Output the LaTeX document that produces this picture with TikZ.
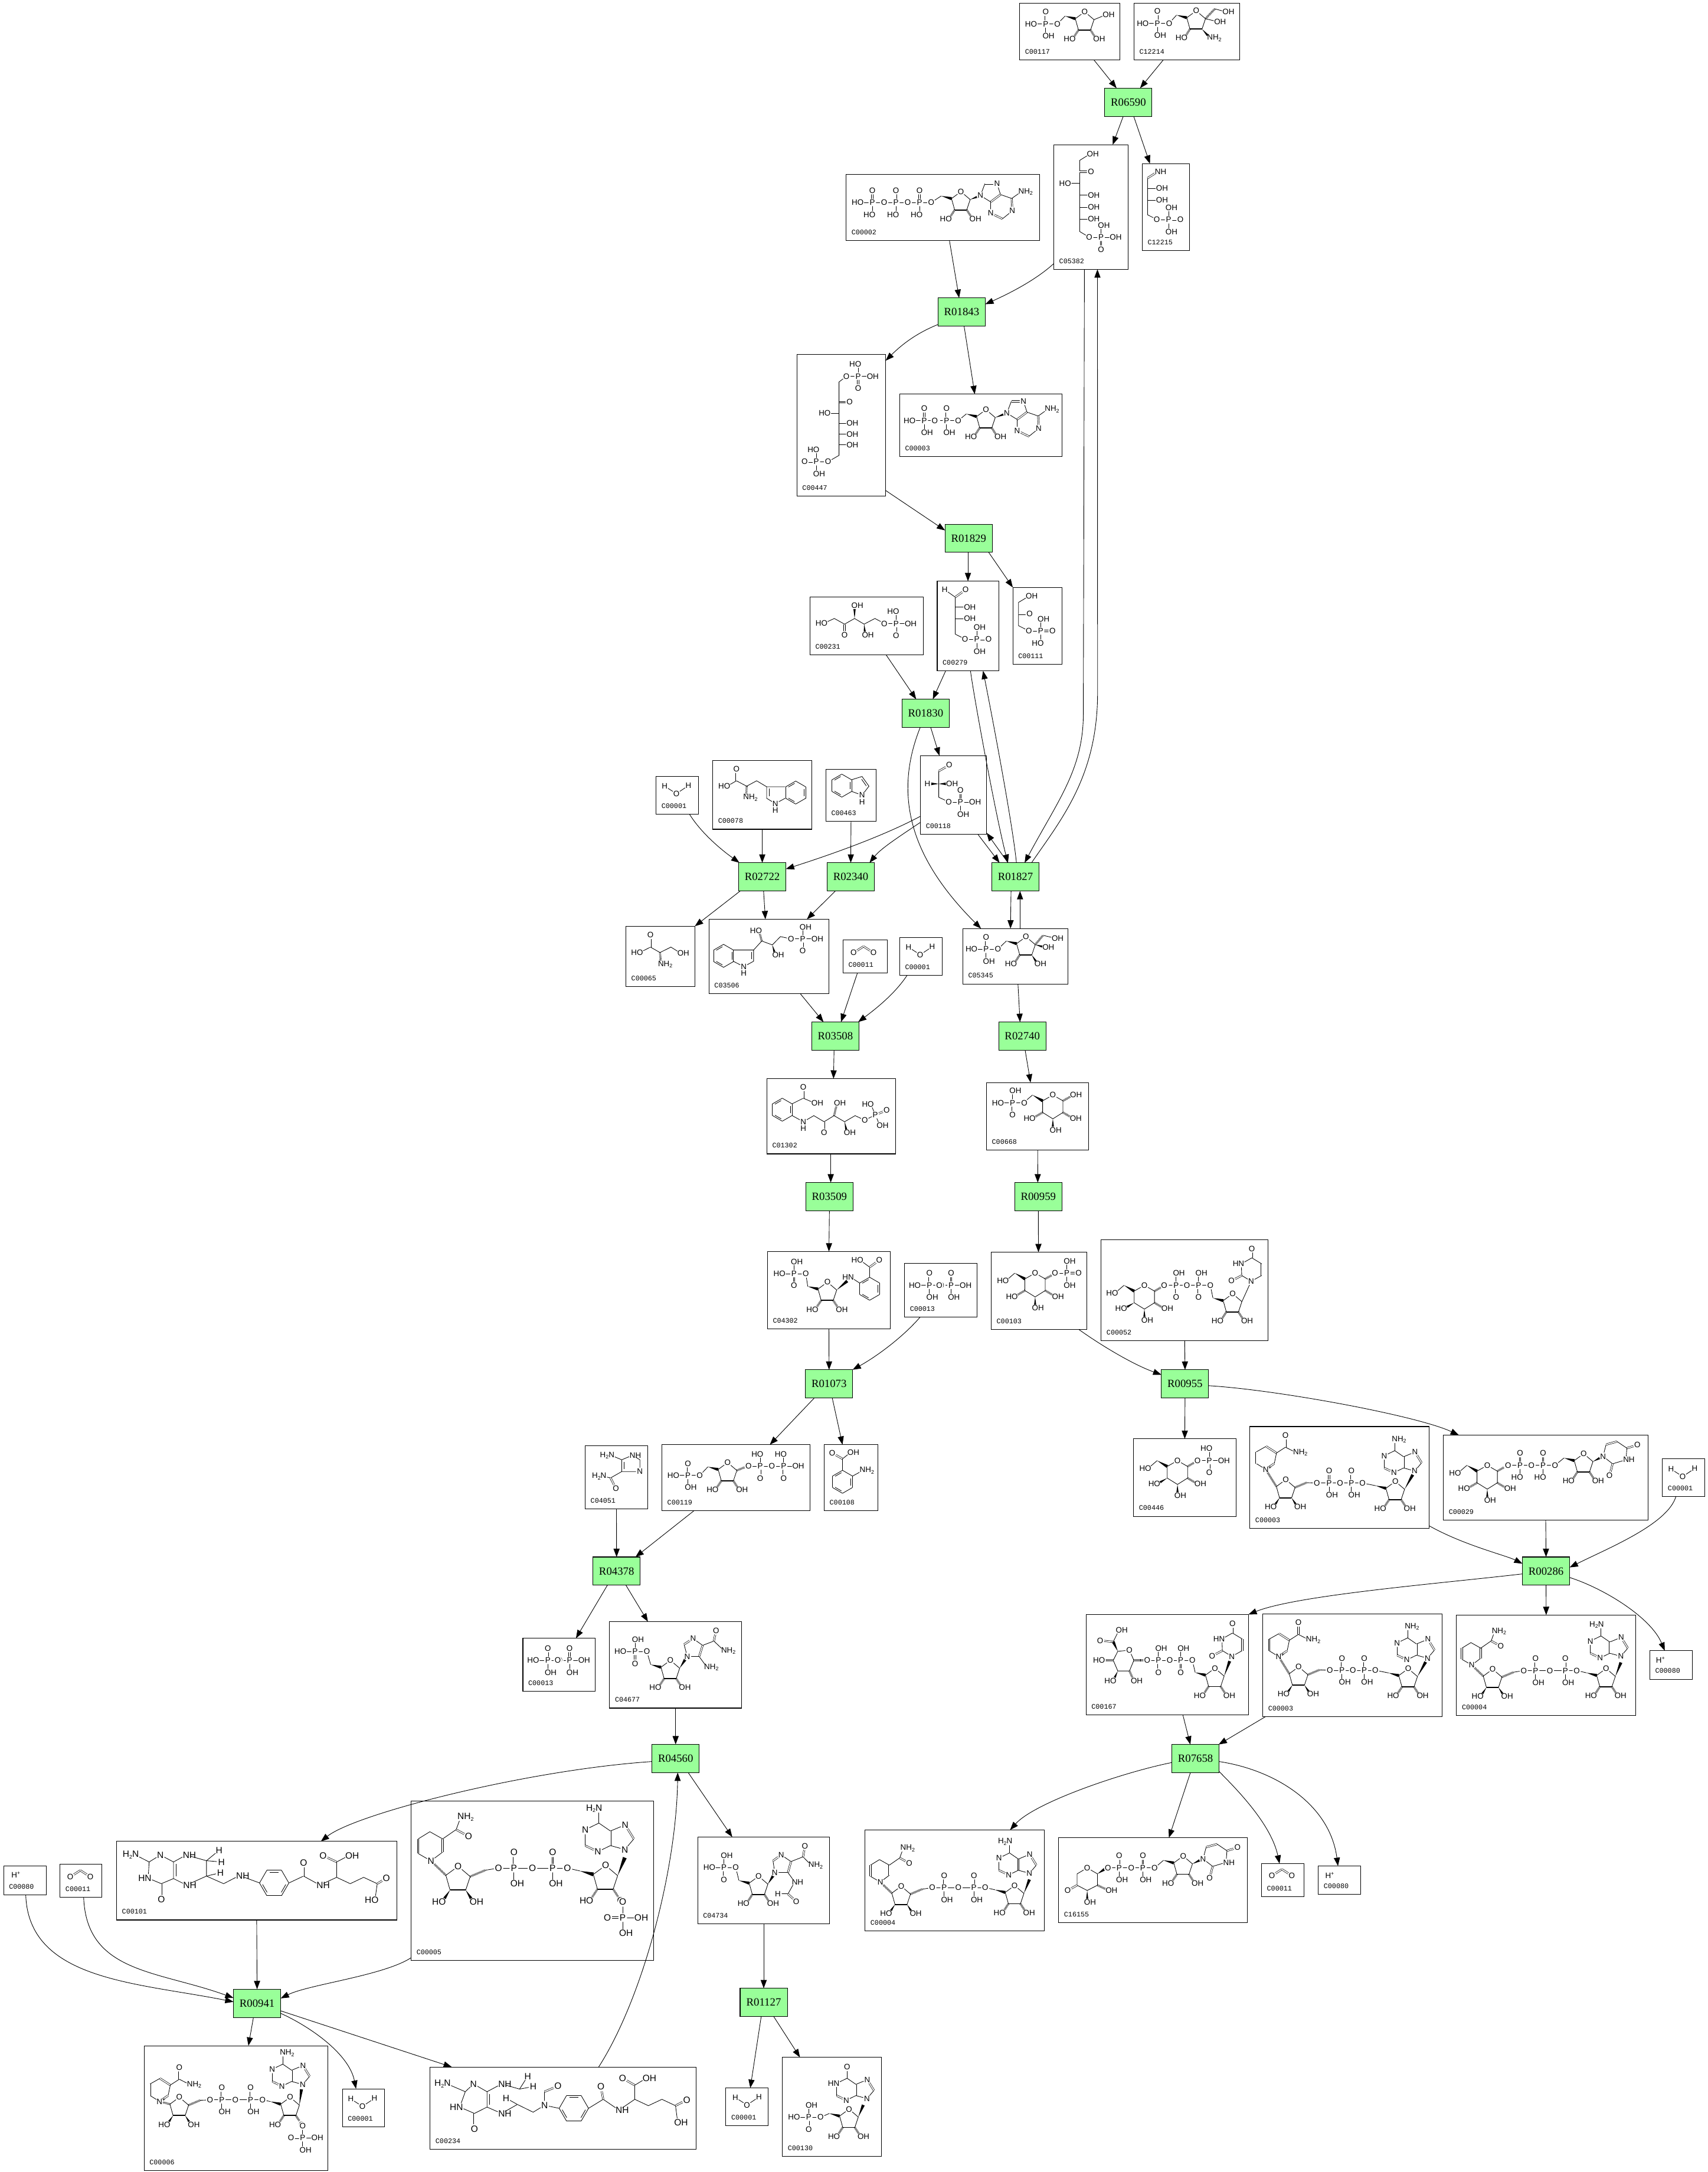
\documentclass[tikz,border=0pt]{standalone}
\usepackage{fontspec}
\setmainfont{Liberation Serif}
\setsansfont{Liberation Sans}
\setmonofont{Liberation Mono}
\usetikzlibrary{arrows.meta,calc}
\definecolor{rxngreen}{HTML}{99FF99}
\tikzset{
  rxn/.style={draw,fill=rxngreen,line width=.45pt,minimum width=34.1pt,minimum height=20.4pt,
    inner sep=0pt,outer sep=0pt,font=\fontsize{8}{8}\selectfont},
  cpdbox/.style={draw,line width=.45pt,inner sep=0pt,outer sep=0pt},
  cpdlab/.style={anchor=west,inner sep=0pt,font=\fontsize{5}{5}\ttfamily\selectfont},
  conn/.style={-{Triangle[length=6pt,width=4.4pt]},line width=.38pt},
  bond/.style={line width=.36pt},
  dbond/.style={line width=.3pt,double,double distance=.75pt},
  hashb/.style={line width=1.5pt,dash pattern=on .3pt off .5pt},
  atm/.style={circle,fill=white,inner sep=0pt,minimum size=0.9*\afs pt,
    font=\fontsize{\afs}{\afs}\sffamily\selectfont}
}
\def\afs{5.7}
\newif\ifatompass
% atom texts: the first atom of the bond sits at the given point
\newcommand{\subtwo}{\raisebox{-.35ex}{\fontsize{3.8}{3.8}\selectfont 2}}
\newcommand{\supplus}{\raisebox{.7ex}{\fontsize{3.8}{3.8}\selectfont +}}
\newcommand{\OH}{\makebox[0pt]{O}\rlap{\hspace{.39em}H}}
\newcommand{\HO}{\llap{H\hspace{.39em}}\makebox[0pt]{O}}
\newcommand{\NH}{\makebox[0pt]{N}\rlap{\hspace{.36em}H}}
\newcommand{\HN}{\llap{H\hspace{.36em}}\makebox[0pt]{N}}
\newcommand{\NHt}{\makebox[0pt]{N}\rlap{\hspace{.36em}H\subtwo}}
\newcommand{\HtN}{\llap{H\subtwo\hspace{.36em}}\makebox[0pt]{N}}
\newcommand{\atm}[2]{\ifatompass\node[atm] at (#1) {#2};\fi}
% bond: s single, d double, w wedge, h hashed
\newcommand{\Bd}[4][s]{%
  \ifatompass\else
  \if#1d\draw[dbond] (#2) -- (#3);%
  \else\if#1w\fill (#2) -- ($(#3)!1.1pt!90:(#2)$) -- ($(#3)!1.1pt!-90:(#2)$) -- cycle;%
  \else\if#1h\draw[hashb] (#2) -- (#3);%
  \else\draw[bond] (#2) -- (#3);\fi\fi\fi
  \fi
  \if\relax\detokenize{#4}\relax\else\atm{#3}{#4}\fi}
\newcommand{\Dk}[2]{\if#1#2d\else s\fi}
% phosphate
\newcommand{\Pg}[7]{\begin{scope}[shift={(#1,#2)}]
  \Bd[\Dk{t}{#7}]{0,0}{0,-8.7}{#3}
  \Bd[\Dk{r}{#7}]{0,0}{8.5,0}{#4}
  \Bd[\Dk{b}{#7}]{0,0}{0,8.7}{#5}
  \Bd[\Dk{l}{#7}]{0,0}{-8.5,0}{#6}
  \atm{0,0}{P}
\end{scope}}
\newcommand{\Pv}[5]{\begin{scope}[shift={(#1,#2)}]
  \Bd[\Dk{t}{#5}]{0,0}{0,-8.7}{#3}
  \Bd[\Dk{b}{#5}]{0,0}{0,8.7}{#4}
  \atm{0,0}{P}
\end{scope}}
\newcommand{\Ochain}[2]{%
  \foreach \ox [count=\k] in {#2} {
    \ifnum\k=1 \xdef\oa{\ox}\fi
    \xdef\ob{\ox}
    \atm{\ox,#1}{O}
  }
  \draw[bond] (\oa,#1) -- (\ob,#1);}
% sugar rings
\newcommand{\Ring}[2]{\begin{scope}[shift={(#1,#2)}]
  \draw[bond] (-4.5,13.2) -- (-6.8,5) -- (0,0) -- (6.7,5.7) -- (4.2,13.2);
  \draw[bond,line width=.75pt] (4.2,13.2) -- (-4.5,13.2);
  \atm{0,0}{O}
\end{scope}}
\newcommand{\Rib}[5][\OH]{\Ring{#2}{#3}
  \begin{scope}[shift={(#2,#3)}]
  \Bd[#4]{-4.5,13.2}{-8.8,19.7}{\HO}
  \Bd[#5]{4.2,13.2}{8.4,19.7}{#1}
\end{scope}}
\newcommand{\ArmL}[4]{\Bd[w]{#1-14.2,#2+3.1}{#1-6.8,#2+5}{}
  \draw[bond] ({#1-14.2},{#2+3.1}) -- (#3,#4);}
\newcommand{\ArmR}[4]{\Bd[h]{#1+6.7,#2+5.7}{#1+15,#2+2.2}{}
  \draw[bond] ({#1+15},{#2+2.2}) -- (#3,#4);}
\newcommand{\Pyr}[7]{\begin{scope}[shift={(#1,#2)}]
  \draw[bond] (-7.4,4.2) -- (0,0) -- (7.3,4.2) -- (7.3,12.6) -- (0,17.2) -- (-7.4,12.6) -- cycle;
  \Bd[w]{-14.7,0}{-7.4,4.2}{}
  \Bd{-14.7,0}{-21.2,5.6}{#3}
  \Bd[h]{7.3,4.2}{14.7,0}{#4}
  \Bd[#5]{-7.4,12.6}{-14.7,16.9}{\HO}
  \Bd[#6]{7.3,12.6}{14.5,16.9}{\OH}
  \Bd[#7]{0,17.2}{0,25.3}{\OH}
  \atm{0,0}{O}
\end{scope}}
\newcommand{\Benz}[4]{%
  \foreach \k in {0,...,5} {
    \draw[bond] ([shift={(#4+60*\k:#3)}]#1,#2) -- ([shift={(#4+60+60*\k:#3)}]#1,#2);
  }
  \foreach \k in {0,2,4} {
    \draw[bond] ([shift={(#4+7+60*\k:0.8*#3)}]#1,#2) -- ([shift={(#4+53+60*\k:0.8*#3)}]#1,#2);
  }}
% bases
\newcommand{\AdeA}[3]{\begin{scope}[shift={(#1,#2)}]
  \Bd{0,0}{3.2,-8.5}{}
  \Bd[d]{3.2,-8.5}{12,-8.5}{N}
  \Bd{12,-8.5}{14.5,-.7}{}
  \Bd[d]{14.5,-.7}{7.4,4.6}{}
  \Bd{7.4,4.6}{0,0}{N}
  \Bd{7.4,4.6}{7.4,12.7}{N}
  \Bd[d]{7.4,12.7}{15.9,16.8}{}
  \Bd{15.9,16.8}{23,11.1}{N}
  \Bd[d]{23,11.1}{22.6,2.1}{}
  \Bd{22.6,2.1}{14.5,-.7}{}
  \Bd{22.6,2.1}{29.5,-2.8}{#3}
\end{scope}}
\newcommand{\AdeB}[4]{\begin{scope}[shift={(#1,#2)}]
  \Bd{0,0}{5,-5.9}{}
  \Bd[d]{5,-5.9}{.2,-13.7}{N}
  \Bd{.2,-13.7}{-8,-10.3}{}
  \Bd[d]{-8,-10.3}{-8,-2.2}{}
  \Bd{-8,-2.2}{0,0}{N}
  \Bd{-8,-2.2}{-15,1.2}{N}
  \Bd[d]{-15,1.2}{-22,-2.2}{}
  \Bd{-22,-2.2}{-22,-11}{#4}
  \Bd{-22,-11}{-14.4,-14.7}{}
  \Bd{-14.4,-14.7}{-8,-10.3}{}
  \Bd{-14.4,-14.7}{-14.4,-22.8}{#3}
\end{scope}}
\newcommand{\UraU}[2]{\begin{scope}[shift={(#1,#2)}]
  \Bd{0,0}{7.6,-4.2}{}
  \Bd[d]{7.6,-4.2}{7.6,-12.6}{}
  \Bd{7.6,-12.6}{.5,-16.9}{}
  \Bd[d]{.5,-16.9}{.5,-23.6}{O}
  \Bd{.5,-16.9}{-7.1,-12.6}{\HN}
  \Bd{-7.1,-12.6}{-6.8,-4.2}{}
  \Bd[d]{-6.8,-4.2}{-14.2,-.3}{O}
  \Bd{-6.8,-4.2}{0,0}{N}
\end{scope}}
\newcommand{\UraR}[2]{\begin{scope}[shift={(#1,#2)}]
  \Bd{0,0}{2.2,-8.5}{}
  \Bd[d]{2.2,-8.5}{10.1,-10.7}{}
  \Bd{10.1,-10.7}{17.2,-5.9}{}
  \Bd[d]{17.2,-5.9}{24.8,-8.2}{O}
  \Bd{17.2,-5.9}{16.6,2.5}{\NH}
  \Bd{16.6,2.5}{6.9,5.4}{}
  \Bd[d]{6.9,5.4}{4.7,14}{O}
  \Bd{6.9,5.4}{0,0}{N}
\end{scope}}
\newcommand{\NicOx}[2]{\begin{scope}[shift={(#1,#2)}]
  \Bd{0,0}{-6.8,-4.2}{}
  \Bd[d]{-6.8,-4.2}{-6.8,-12.6}{}
  \Bd{-6.8,-12.6}{.3,-16.6}{}
  \Bd[d]{.3,-16.6}{7.8,-11.8}{}
  \Bd{7.8,-11.8}{6.2,-4.2}{}
  \Bd[d]{6.2,-4.2}{0,0}{\makebox[0pt]{N}\rlap{\hspace{.36em}\supplus}}
  \Bd{7.8,-11.8}{14.3,-16}{}
  \Bd[d]{14.3,-16}{14.3,-24.5}{O}
  \Bd{14.3,-16}{21.9,-12.1}{\NHt}
\end{scope}}
\newcommand{\NicRed}[2]{\begin{scope}[shift={(#1,#2)}]
  \Bd{0,0}{6.5,-4.9}{}
  \Bd[d]{6.5,-4.9}{6.5,-12.2}{}
  \Bd{6.5,-12.2}{-.6,-16.2}{}
  \Bd{-.6,-16.2}{-7.1,-12.2}{}
  \Bd[d]{-7.1,-12.2}{-7.1,-4.1}{}
  \Bd{-7.1,-4.1}{0,0}{N}
  \Bd{6.5,-12.2}{14,-17.4}{}
  \Bd[d]{14,-17.4}{20.9,-13.6}{O}
  \Bd{14,-17.4}{16.6,-24.4}{\NHt}
\end{scope}}
% dinucleotides, in the coordinates of their box
\newcommand{\OxNAD}{%
  \NicOx{11.4}{30.9}
  \Rib{25.9}{38.3}{w}{w}
  \Bd[h]{19.1,43.3}{11.4,30.9}{}
  \ArmR{25.9}{38.3}{48.4}{40.8}
  \Ochain{40.8}{48.4,65.1,81.3}
  \Pv{57.2}{40.8}{O}{\OH}{t}
  \Pv{73.3}{40.8}{O}{\OH}{t}
  \Rib{105}{39.6}{h}{h}
  \ArmL{105}{39.6}{81.3}{40.8}
  \Bd[w]{111.7,45.3}{117.6,34.8}{}
  \AdeB{119}{32.1}{\NHt}{N}}
\newcommand{\RedNAD}[1][\OH]{%
  \NicRed{11}{36.1}
  \Rib{26.1}{39.1}{w}{w}
  \Bd[h]{19.3,44.1}{11,36.1}{}
  \ArmR{26.1}{39.1}{48.5}{40.1}
  \Ochain{40.1}{48.5,67.4,86.8}
  \Pv{57.1}{40.1}{O}{\OH}{t}
  \Pv{78.6}{40.1}{O}{\OH}{t}
  \Rib[#1]{108}{38.6}{h}{h}
  \ArmL{108}{38.6}{86.8}{40.1}
  \Bd[w]{114.7,44.3}{118.7,34.3}{}
  \AdeB{118.7}{29.8}{\HtN}{N}}
\newcommand{\Water}[2]{\begin{scope}[shift={(#1,#2)}]
  \Bd{0,0}{-8.4,-5.4}{H}
  \Bd{0,0}{8.7,-5.8}{H}
  \atm{0,0}{O}
\end{scope}}
\newcommand{\COt}[2]{\begin{scope}[shift={(#1,#2)}]
  \Bd[d]{0,0}{-7.2,4.6}{O}
  \Bd[d]{0,0}{7.2,4.6}{O}
\end{scope}}
% compound box and reaction box
\newcommand{\cpd}[6]{%
  \pgfmathsetmacro\cw{#5-#3}
  \pgfmathsetmacro\ch{#6-#4}
  \node[cpdbox,minimum width=\cw pt,minimum height=\ch pt] (#1) at ({(#3+#5)/2},{(#4+#6)/2}) {};
  \node[cpdlab] (#1lab) at ({#3+3.7},{#6-6}) {#2};}
\newcommand{\rxn}[3]{\node[rxn] (#1) at (#2,#3) {#1};}
% all structures: run once for the bonds, once for the atoms on top
\newcommand{\Molecules}{%
  % Water, carbon dioxide, protons
  \Water{488.4}{573.1}
  \Water{664.5}{689.4}
  \Water{1215.1}{1066.2}
  \Water{261.7}{1521}
  \Water{539.4}{1520}
  \COt{623.6}{683.4}
  \COt{58}{1350.6}
  \COt{925.7}{1349.8}
  \atm{1199,1198.7}{H\supplus}
  \atm{960.2,1354.2}{H\supplus}
  \atm{11.4,1353.8}{H\supplus}

  % C00117
  \Pg{755.1}{17.3}{O}{O}{\OH}{\HO}{t}
  \Rib{783.3}{8.5}{h}{h}
  \ArmL{783.3}{8.5}{763.6}{17.3}
  \Bd{790,14.2}{798.5,10.7}{\OH}

  % C12214
  \Pg{835.8}{16.8}{O}{O}{\OH}{\HO}{t}
  \Ring{863.8}{7.8}
  \ArmL{863.8}{7.8}{844.3}{16.8}
  \Bd[h]{859.3,21}{855.3,27.4}{\HO}
  \Bd[w]{868,21}{873.8,27.4}{\NHt}
  \Bd[h]{870.5,13.5}{877.3,6.4}{}
  \Bd{877.3,6.4}{885,8.5}{\OH}
  \Bd{870.5,13.5}{879,15.6}{\OH}

  % C05382
  \draw[bond] (787.1,111.2) -- (779.7,115.8) -- (779.7,167.2) -- (786.7,171.4);
  \atm{787.1,111.2}{\OH}
  \Bd[d]{779.7,124}{787.8,124}{O}
  \Bd{779.7,132.5}{771.2,132.5}{\HO}
  \foreach \y in {141,149.6,158.1} {
    \Bd{779.7,\y}{787.8,\y}{\OH}
  }
  \Pg{795.1}{171.4}{\OH}{\OH}{O}{O}{b}

  % C12215
  \draw[bond] (828.7,128.6) -- (828.7,155.1) -- (835.8,158.7);
  \Bd[d]{828.7,128.6}{836.1,123.9}{\NH}
  \Bd{828.7,136}{837.1,136}{\OH}
  \Bd{828.7,144.6}{837.1,144.6}{\OH}
  \Pg{843.9}{158.7}{\OH}{O}{\OH}{O}{r}

  % C00002
  \Pg{629.9}{146.2}{O}{O}{\HO}{\HO}{t}
  \Pg{647}{146.2}{O}{O}{\HO}{O}{t}
  \Pg{664}{146.2}{O}{O}{\HO}{O}{t}
  \Rib{693.9}{138.4}{h}{h}
  \ArmL{693.9}{138.4}{672.5}{146.2}
  \Bd[w]{700.6,144.1}{708,141.2}{}
  \AdeA{708}{141.2}{\NHt}

  % C00447
  \Pg{619.7}{271.7}{\HO}{\OH}{O}{O}{b}
  \draw[bond] (611.2,271.7) -- (605.9,275.8) -- (605.9,328.8) -- (598,333.4);
  \Bd[d]{605.9,290.4}{613.5,290.4}{O}
  \Bd{605.9,298.3}{597.6,298.3}{\HO}
  \foreach \y in {305.6,313.5,321.1} {
    \Bd{605.9,\y}{613.5,\y}{\OH}
  }
  \Pg{589.5}{333.4}{\HO}{O}{\OH}{O}{l}

  % upper C00003 box
  \Pg{667.4}{303.7}{O}{O}{\OH}{\HO}{t}
  \Pg{683.5}{303.7}{O}{O}{\OH}{O}{t}
  \Rib{712}{295.8}{h}{h}
  \ArmL{712}{295.8}{692}{303.7}
  \Bd[w]{718.7,301.5}{727.1,298.3}{}
  \AdeA{727.1}{298.3}{\NHt}

  % C00279
  \draw[bond] (689.8,431.2) -- (689.8,457.9) -- (697.3,461.7);
  \Bd{689.8,431.2}{682.2,425.8}{H}
  \Bd[d]{689.8,431.2}{697.3,425.8}{O}
  \Bd{689.8,438.3}{698.3,438.3}{\OH}
  \Bd{689.8,446.8}{698.3,446.8}{\OH}
  \Pg{705.4}{461.7}{\OH}{O}{\OH}{O}{r}

  % C00111
  \draw[bond] (743,430.5) -- (735.5,435) -- (735.5,451.8) -- (743,455.6);
  \atm{743,430.5}{\OH}
  \Bd[d]{735.5,443.3}{743.5,443.3}{O}
  \Pg{751.5}{455.6}{\OH}{O}{\HO}{O}{r}

  % C00231
  \draw[bond] (595.3,449.9) -- (602.5,446.6) -- (609.9,450.7) -- (617.1,446.6) -- (624,450.7) -- (631.8,446.6) -- (638.8,450.3);
  \atm{595.3,449.9}{\HO}
  \Bd[d]{609.9,450.7}{609.9,458.6}{O}
  \Bd[w]{617.1,446.6}{617.1,437.3}{\OH}
  \Bd[w]{624,450.7}{624.7,458.6}{\OH}
  \Pg{647.1}{450.3}{\HO}{\OH}{O}{O}{b}

  % C00118
  \draw[bond] (677.9,556.8) -- (677.9,575.7) -- (685.5,579.2);
  \Bd[d]{677.9,556.8}{685.5,552.5}{O}
  \Bd[w]{677.9,566}{671.5,566}{}
  \Bd[w]{677.9,566}{684,566}{}
  \atm{669.7,565.8}{H}
  \atm{685.5,565.8}{\OH}
  \Pg{693.6}{579.2}{O}{\OH}{\OH}{O}{t}

  % C00078
  \Bd{531.8,563.8}{525.1,567.7}{\HO}
  \Bd[d]{531.8,563.8}{531.8,555.3}{O}
  \Bd{531.8,563.8}{539.2,567.7}{}
  \Bd[h]{539.2,567.7}{538.8,576}{\NHt}
  \draw[bond] (539.2,567.7) -- (546.4,563.8) -- (553.6,568.1);
  \draw[bond] (567,568.1) -- (553.6,568.1) -- (553.6,576.4) -- (559.9,580.3) -- (567,576.4);
  \draw[bond] (555.4,569.5) -- (555.4,575);
  \atm{559.9,580.3}{N}
  \atm{559.9,585}{H}
  \Benz{574.6}{572.3}{8.3}{90}

  % C00463
  \Benz{607.9}{567.3}{8.3}{90}
  \draw[bond] (615.1,563) -- (622.5,560.7) -- (627.5,567.7) -- (622.5,574.2) -- (615.1,571.5);
  \draw[bond] (622.2,562.7) -- (625.6,567.5);
  \atm{622.5,574.2}{N}
  \atm{622.5,579}{H}

  % C00065
  \Bd{469.7,683.9}{462.1,687.8}{\HO}
  \Bd[d]{469.7,683.9}{469.7,675.2}{O}
  \Bd{469.7,683.9}{476.6,687.8}{}
  \Bd[h]{476.6,687.8}{477.3,696.3}{\NHt}
  \draw[bond] (476.6,687.8) -- (484.5,683.9) -- (491.4,688.2);
  \atm{491.4,688.2}{\OH}

  % C03506
  \Benz{522.5}{690.2}{8.3}{90}
  \draw[bond] (529.5,686) -- (544.2,686) -- (544.2,694.1) -- (537.1,698) -- (529.5,694.1);
  \draw[bond] (542.6,687.5) -- (542.6,692.6);
  \atm{537.1,698}{N}
  \atm{537.1,702.8}{H}
  \draw[bond] (544.2,686) -- (550.1,679.5) -- (557.7,682.3) -- (563.6,676.3) -- (571.4,678);
  \Bd[h]{550.1,679.5}{548,671.9}{\HO}
  \Bd[w]{557.7,682.3}{559.9,689.7}{\OH}
  \Pg{579.7}{678}{\OH}{\OH}{O}{O}{b}

  % C05345
  \Pg{712.1}{685.4}{O}{O}{\OH}{\HO}{t}
  \Rib{740.9}{676.4}{h}{w}
  \ArmL{740.9}{676.4}{720.6}{685.4}
  \Bd[h]{747.6,682.1}{753.2,675.4}{}
  \Bd{753.2,675.4}{761.7,677.4}{\OH}
  \Bd[w]{747.6,682.1}{755,684.2}{\OH}

  % C01302
  \Benz{564.9}{801.3}{8.3}{90}
  \Bd{572.1,797}{580.1,793}{}
  \Bd[d]{580.1,793}{580.1,785}{O}
  \Bd{580.1,793}{588.2,796.5}{\OH}
  \draw[bond] (572.1,805.6) -- (580.1,810) -- (587.7,805.6) -- (595.1,810) -- (602.3,805.6) -- (609.9,810) -- (617.5,805.6) -- (624.5,808.9) -- (632.1,805);
  \atm{580.1,810}{N}
  \atm{580.1,814.8}{H}
  \Bd[d]{595.1,810}{595.1,818}{O}
  \Bd[h]{602.3,805.6}{604.5,796.5}{\OH}
  \Bd[w]{609.9,810}{611.6,818}{\OH}
  \atm{624.5,808.9}{O}
  \Bd{632.1,805}{628.8,797.3}{\HO}
  \Bd[d]{632.1,805}{640.3,801.7}{O}
  \Bd{632.1,805}{635.3,812.6}{\OH}
  \atm{632.1,805}{P}

  % C00668
  \Pg{731.2}{796.4}{\OH}{O}{O}{\HO}{b}
  \Pyr{760.3}{790.7}{}{\OH}{h}{h}{w}

  % C04302
  \Pg{573.4}{919.7}{\OH}{O}{O}{\HO}{b}
  \Rib{597.5}{925.8}{h}{h}
  \ArmL{597.5}{925.8}{581.9}{919.7}
  \Bd[w]{604.2,931.5}{611.8,925}{}
  \atm{614.5,922.4}{\HN}
  \Bd{614.5,922.4}{620.8,926.5}{}
  \Benz{628}{930.6}{8.3}{90}
  \Bd{628,922.3}{628,915}{}
  \Bd{628,915}{621.2,910}{\HO}
  \Bd[d]{628,915}{634.9,910}{O}

  % C00013, two boxes
  \Pg{671.2}{928}{O}{O}{\OH}{\HO}{t}
  \Pg{686.8}{928}{O}{\OH}{\OH}{O}{t}
  \Pg{395.6}{1198.9}{O}{O}{\OH}{\HO}{t}
  \Pg{411.3}{1198.9}{O}{\OH}{\OH}{O}{t}

  % C00103
  \Pyr{747.5}{919.3}{\HO}{O}{h}{h}{w}
  \Pg{770.4}{919.3}{\OH}{O}{\OH}{O}{r}

  % C00052
  \Pyr{826.4}{928.1}{\HO}{O}{w}{h}{w}
  \Ochain{928.1}{840.7,857.1,874}
  \Pv{849.3}{928.1}{\OH}{O}{b}
  \Pv{865.5}{928.1}{\OH}{O}{b}
  \Rib{890.1}{934.2}{h}{h}
  \ArmL{890.1}{934.2}{874}{928.1}
  \Bd{896.8,939.9}{903.5,925.2}{}
  \UraU{903.5}{925.2}

  % C00446
  \Pyr{850.3}{1054.7}{\HO}{O}{w}{h}{w}
  \Pg{873.3}{1054.7}{\HO}{\OH}{O}{O}{b}

  % C00119
  \Pg{496.8}{1065.4}{O}{O}{\OH}{\HO}{t}
  \Rib{525.4}{1056.1}{h}{h}
  \ArmL{525.4}{1056.1}{505.3}{1065.4}
  \Bd[h]{532.1,1061.8}{539,1059}{}
  \Pg{549}{1058.7}{\HO}{O}{O}{O}{b}
  \Pg{565.9}{1058.7}{\HO}{\OH}{O}{O}{b}

  % C00108
  \Benz{608.4}{1070}{8.3}{90}
  \Bd{608.4,1061.7}{608.4,1053.4}{}
  \Bd[d]{608.4,1053.4}{601,1049.2}{O}
  \Bd{608.4,1053.4}{614.2,1048.8}{\OH}
  \Bd{615.6,1065.9}{622.9,1061.9}{\NHt}

  % C04051
  \draw[bond] (449,1054.1) -- (456.8,1050.8) -- (462.1,1054.1) -- (462.1,1062.6) -- (449,1062.6) -- cycle;
  \draw[bond] (450.5,1055.5) -- (450.5,1061);
  \atm{456.8,1050.8}{\NH}
  \atm{462.1,1062.6}{N}
  \Bd{449,1054.1}{441.6,1051}{\HtN}
  \draw[bond] (449,1062.6) -- (440.9,1067.2);
  \Bd{440.9,1067.2}{435.8,1066.1}{\HtN}
  \Bd[d]{440.9,1067.2}{444.8,1074.9}{O}

  % C04677
  \Pg{458.6}{1192.5}{\OH}{O}{O}{\HO}{b}
  \Rib{484.1}{1198.9}{h}{h}
  \ArmL{484.1}{1198.9}{467.1}{1192.5}
  \Bd[w]{490.8,1204.6}{495,1198}{}
  \draw[bond] (496.3,1196.2) -- (494,1187.4);
  \Bd[d]{494,1187.4}{500.5,1183.2}{N}
  \draw[bond] (500.5,1183.2) -- (507.4,1188.1);
  \Bd[d]{507.4,1188.1}{504.9,1196.2}{}
  \Bd{504.9,1196.2}{496.3,1196.2}{N}
  \Bd{507.4,1188.1}{515.5,1185}{}
  \Bd[d]{515.5,1185}{517.1,1177.4}{O}
  \Bd{515.5,1185}{522.9,1192}{\NHt}
  \Bd{504.9,1196.2}{510.6,1204}{\NHt}

  % C04734
  \Pg{522.8}{1348.6}{\OH}{O}{O}{\HO}{b}
  \Rib{547.8}{1354.8}{h}{h}
  \ArmL{547.8}{1354.8}{531.3}{1348.6}
  \Bd[w]{554.5,1360.5}{558.6,1354}{}
  \draw[bond] (559.5,1352.2) -- (558.2,1343.7);
  \Bd[d]{558.2,1343.7}{564.1,1339.4}{N}
  \draw[bond] (564.1,1339.4) -- (571.2,1344.2);
  \Bd[d]{571.2,1344.2}{569,1352.2}{}
  \Bd{569,1352.2}{559.5,1352.2}{N}
  \Bd{571.2,1344.2}{579.9,1340.8}{}
  \Bd[d]{579.9,1340.8}{581.3,1332.9}{O}
  \Bd{579.9,1340.8}{585.9,1346.9}{\NHt}
  \Bd{569,1352.2}{573.9,1358.9}{\NH}
  \Bd{573.9,1358.9}{569,1367.6}{}
  \Bd{569,1367.6}{561.7,1367.6}{H}
  \Bd[d]{569,1367.6}{575,1373.1}{O}

  % C00130
  \Pg{584}{1528.9}{\OH}{O}{O}{\HO}{b}
  \Rib{613.1}{1523}{h}{h}
  \ArmL{613.1}{1523}{592.5}{1528.9}
  \Bd[w]{619.8,1528.7}{623.4,1520}{}
  \AdeB{626.1}{1515.4}{O}{\HN}

  % C00029
  \Pyr{1074}{1058.1}{\HO}{O}{h}{h}{w}
  \Ochain{1058.1}{1089.1,1105.9,1122.9}
  \Pv{1097.7}{1058.1}{O}{\HO}{t}
  \Pv{1114.3}{1058.1}{O}{\HO}{t}
  \Rib{1143.6}{1049.7}{h}{h}
  \ArmL{1143.6}{1049.7}{1122.9}{1058.1}
  \Bd[w]{1150.3,1055.4}{1156.8,1052}{}
  \UraR{1157.6}{1051.6}

  % C00167
  \draw[bond] (807.2,1192.4) -- (815.6,1191.6) -- (818.8,1198.9) -- (815.6,1206.6) -- (807.2,1206.6) -- (803.9,1198.9) -- cycle;
  \atm{815.6,1191.6}{O}
  \Bd[w]{807.2,1192.4}{803.9,1185.5}{}
  \Bd[d]{803.9,1185.5}{794.4,1184.6}{O}
  \Bd{803.9,1185.5}{808,1177.2}{\OH}
  \Bd[h]{803.9,1198.9}{795.7,1198.9}{\HO}
  \Bd[w]{807.2,1206.6}{803.9,1213.6}{\HO}
  \Bd[h]{815.6,1206.6}{818.8,1213.6}{\OH}
  \Bd[h]{818.8,1198.9}{828.4,1198.9}{}
  \Ochain{1198.9}{828.4,844.7,861}
  \Pv{836.5}{1198.9}{\OH}{O}{b}
  \Pv{852.6}{1198.9}{\OH}{O}{b}
  \Rib{877.3}{1204.6}{h}{h}
  \ArmL{877.3}{1204.6}{861}{1198.9}
  \Bd[w]{884,1210.3}{888,1199.5}{}
  \UraU{889.5}{1196.1}

  % C16155
  \draw[bond] (777.8,1353.1) -- (785.1,1348.8) -- (792.5,1353.1) -- (792.5,1361.3) -- (785.1,1365.1) -- (777.8,1361.3) -- cycle;
  \atm{785.1,1348.8}{O}
  \Bd[d]{777.8,1361.3}{771,1365.1}{O}
  \Bd[h]{792.5,1361.3}{800.6,1365.1}{\OH}
  \Bd[w]{785.1,1365.1}{785.1,1373.6}{\OH}
  \Bd[w]{792.5,1353.1}{798,1349.5}{}
  \Ochain{1348.8}{800.1,816.9,833.8}
  \Pv{808.2}{1348.8}{O}{\OH}{t}
  \Pv{825.3}{1348.8}{O}{\OH}{t}
  \Rib{854.4}{1340.2}{h}{h}
  \ArmL{854.4}{1340.2}{833.8}{1348.8}
  \Bd[w]{861.1,1345.9}{867.8,1342.6}{}
  \UraR{868.8}{1342.3}

  % C00003 and C00004, drawn from their box corner
  \begin{scope}[shift={(902.6,1030.1)}] \OxNAD \end{scope}
  \begin{scope}[shift={(911.9,1165.3)}] \OxNAD \end{scope}
  \begin{scope}[shift={(1051.8,1166.2)}] \RedNAD \end{scope}
  \begin{scope}[shift={(624.7,1322.9)}] \RedNAD \end{scope}

  % C00005
  \begin{scope}[shift={(296.9,1296.8)},scale=1.3]
    \def\afs{6.6}
    \RedNAD[O]
    \Pg{117.5}{67.6}{O}{\OH}{\OH}{O}{l}
  \end{scope}

  % C00006
  \begin{scope}[shift={(104.1,1477.2)}]
    \NicOx{11.1}{40.2}
    \Rib{25.4}{37.2}{w}{w}
    \Bd[h]{18.6,42.2}{11.1,40.2}{}
    \ArmR{25.4}{37.2}{47.6}{39.1}
    \Ochain{39.1}{47.6,65.9,85.5}
    \Pv{56.1}{39.1}{O}{\OH}{t}
    \Pv{76.9}{39.1}{O}{\OH}{t}
    \Rib[O]{105.4}{37.2}{h}{h}
    \ArmL{105.4}{37.2}{85.5}{39.1}
    \Bd[w]{112.1,42.9}{113.6,31.5}{}
    \AdeB{114.5}{28}{\NHt}{N}
    \Pg{114.5}{66.5}{O}{\OH}{\OH}{O}{l}
  \end{scope}

  % C00101
  \begin{scope}
    \def\afs{6.6}
    \draw[bond] (107.7,1344.5) -- (115.8,1339.5) -- (125.3,1344.5) -- (125.3,1356.5) -- (116.5,1360.2) -- (107,1356.2) -- cycle;
    \draw[bond] (127,1346) -- (127,1355);
    \Bd{107.7,1344.5}{97.9,1339.5}{\HtN}
    \atm{115.8,1339.5}{N}
    \atm{107,1356.2}{\HN}
    \Bd[d]{116.5,1360.2}{116.5,1371.7}{O}
    \draw[bond] (125.3,1344.5) -- (134.4,1339.5) -- (149.1,1343.6) -- (149.1,1354.7) -- (134.7,1361.2) -- (125.3,1356.5);
    \atm{134.4,1339.5}{\NH}
    \atm{134.7,1361.2}{\NH}
    \Bd{149.1,1343.6}{158.2,1336.1}{H}
    \Bd{149.1,1343.6}{159.9,1344.5}{H}
    \Bd{149.1,1354.7}{159.2,1352.3}{H}
    \draw[bond] (149.1,1354.7) -- (161.5,1360.2) -- (172.9,1354.3) -- (187.6,1359.7);
    \atm{172.9,1354.3}{\NH}
    \Benz{198}{1359.7}{10.6}{0}
    \Bd{208.6,1359.7}{219.2,1354.7}{}
    \Bd[d]{219.2,1354.7}{219.2,1345}{O}
    \draw[bond] (219.2,1354.7) -- (231,1361.2) -- (243.1,1355.6) -- (252.9,1360.2) -- (262.6,1355.6) -- (272.4,1360.2);
    \atm{231,1361.2}{\NH}
    \Bd{243.1,1355.6}{243.1,1344.5}{}
    \Bd[d]{243.1,1344.5}{233.3,1339.9}{O}
    \Bd{243.1,1344.5}{251.9,1339.9}{\OH}
    \Bd[d]{272.4,1360.2}{279,1356.2}{O}
    \Bd{272.4,1360.2}{270.8,1371.9}{\HO}
  \end{scope}

  % C00234
  \begin{scope}
    \def\afs{6.6}
    \draw[bond] (336,1510.4) -- (341.9,1504.8) -- (351.7,1510.4) -- (351.7,1521.5) -- (342.6,1526.1) -- (332,1521.5) -- cycle;
    \draw[bond] (353.4,1512) -- (353.4,1520);
    \Bd{336,1510.4}{323,1504.8}{\HtN}
    \atm{341.9,1504.8}{N}
    \atm{332,1521.5}{\HN}
    \Bd[d]{342.6,1526.1}{342.6,1537.2}{O}
    \draw[bond] (351.7,1510.4) -- (362.2,1504.8) -- (375.2,1508.5);
    \draw[bond] (351.7,1521.5) -- (362.2,1526.1) -- (373.6,1519.6) -- (385,1525.2) -- (393.2,1520.2);
    \atm{362.2,1504.8}{\NH}
    \atm{362.2,1526.1}{\NH}
    \Bd{375.2,1508.5}{381.1,1499.2}{H}
    \Bd{375.2,1508.5}{385,1506.7}{H}
    \Bd{373.6,1519.6}{365.4,1515}{H}
    \Bd{393.2,1520.2}{393.2,1510.4}{}
    \Bd[d]{393.2,1510.4}{402.9,1506.3}{O}
    \Bd{403.8,1522.4}{393.2,1520.2}{N}
    \Benz{414.4}{1522.4}{10.6}{0}
    \Bd{425,1522.4}{435.6,1515.9}{}
    \Bd[d]{435.6,1515.9}{433.9,1506.7}{O}
    \draw[bond] (435.6,1515.9) -- (447,1523.7) -- (458.4,1515.9) -- (468.2,1520.5) -- (478,1515.9) -- (487.8,1520.5);
    \atm{447,1523.7}{\NH}
    \Bd{458.4,1515.9}{458.4,1505.7}{}
    \Bd[d]{458.4,1505.7}{449.6,1500.7}{O}
    \Bd{458.4,1505.7}{466.6,1500.7}{\OH}
    \Bd[d]{487.8,1520.5}{495.9,1516.3}{O}
    \Bd{487.8,1520.5}{489.4,1532.6}{\OH}
  \end{scope}
}

\begin{document}
\begin{tikzpicture}[x=1pt,y=-1pt]
  \useasboundingbox (0,0) rectangle (1233,1568.4);

  % Reactions
  \rxn{R06590}{814.85}{73.85}
  \rxn{R01843}{694.45}{225.3}
  \rxn{R01829}{699.5}{388.7}
  \rxn{R01830}{668.45}{515.1}
  \rxn{R02722}{550.45}{633.2}
  \rxn{R02340}{614.35}{633.2}
  \rxn{R01827}{733.25}{633.2}
  \rxn{R03508}{603.25}{748.2}
  \rxn{R02740}{738.25}{748.2}
  \rxn{R03509}{598.95}{864.1}
  \rxn{R00959}{749.8}{864.1}
  \rxn{R01073}{598.7}{999.3}
  \rxn{R00955}{855.75}{999.3}
  \rxn{R04378}{445.25}{1134.5}
  \rxn{R00286}{1116.45}{1134.5}
  \rxn{R04560}{487.9}{1269.8}
  \rxn{R07658}{863.3}{1269.9}
  \rxn{R00941}{185.65}{1446.6}
  \rxn{R01127}{551.5}{1445.9}

  % Compound boxes
  \cpd{C00117}{C00117}{736.3}{2.3}{808.8}{43.2}
  \cpd{C12214}{C12214}{818.9}{2.3}{895.3}{43.2}
  \cpd{C05382}{C05382}{761}{104.5}{814.8}{194.5}
  \cpd{C12215}{C12215}{824.9}{118.2}{859.1}{180.8}
  \cpd{C00002}{C00002}{611}{126}{750.8}{173.6}
  \cpd{C00447}{C00447}{575.5}{256}{639.6}{358.2}
  \cpd{C00003u}{C00003}{649.7}{284.6}{767}{329.8}
  \cpd{C00279}{C00279}{676.8}{419.7}{721.2}{484.4}
  \cpd{C00111}{C00111}{731.4}{424.2}{766.8}{479.7}
  \cpd{C00231}{C00231}{584.9}{431.2}{666.6}{472.9}
  \cpd{C00118}{C00118}{664.7}{545.7}{712.5}{602.5}
  \cpd{C00001a}{C00001}{473.8}{560.7}{504.5}{587.9}
  \cpd{C00078}{C00078}{514.7}{549.2}{586.2}{598.8}
  \cpd{C00463}{C00463}{596.4}{555.5}{632.7}{593.1}
  \cpd{C00065}{C00065}{452}{668.8}{501.8}{712.3}
  \cpd{C03506}{C03506}{512}{663.8}{598.6}{717.5}
  \cpd{C00011a}{C00011}{608.8}{678.6}{640.7}{702.5}
  \cpd{C00001b}{C00001}{649.7}{677}{680.3}{704.2}
  \cpd{C05345}{C05345}{695.3}{670.5}{771.2}{710.5}
  \cpd{C01302}{C01302}{553.8}{778.9}{646.6}{833.2}
  \cpd{C00668}{C00668}{712.4}{781.7}{786.3}{830.5}
  \cpd{C04302}{C04302}{554.2}{903.7}{643}{959.5}
  \cpd{C00013a}{C00013}{653.2}{912.1}{705.5}{951}
  \cpd{C00103}{C00103}{715.8}{904.2}{784.9}{960.1}
  \cpd{C00052}{C00052}{795.2}{895.2}{915.8}{968.2}
  \cpd{C04051}{C04051}{422.6}{1044.1}{467.7}{1089.6}
  \cpd{C00119}{C00119}{478}{1043.2}{585}{1091}
  \cpd{C00108}{C00108}{595.2}{1043.2}{634}{1091}
  \cpd{C00446}{C00446}{818.6}{1039}{892.5}{1094.9}
  \cpd{C00003a}{C00003}{902.6}{1030.1}{1032.2}{1103.6}
  \cpd{C00029}{C00029}{1042.3}{1036.3}{1190.1}{1097.8}
  \cpd{C00001c}{C00001}{1200.5}{1053.4}{1231.1}{1080.7}
  \cpd{C00013b}{C00013}{377.6}{1183}{429.8}{1221.3}
  \cpd{C04677}{C04677}{440.2}{1171}{535.6}{1233.4}
  \cpd{C00167}{C00167}{784.3}{1165.8}{901.6}{1238.4}
  \cpd{C00003b}{C00003}{911.9}{1165.3}{1041.4}{1239.5}
  \cpd{C00004a}{C00004}{1051.8}{1166.2}{1181.3}{1238.7}
  \cpd{C00080a}{C00080}{1191.4}{1192}{1222.3}{1212.6}
  \cpd{C00101}{C00101}{84.2}{1329.7}{286.5}{1386.4}
  \cpd{C00005}{C00005}{296.9}{1300.6}{472.1}{1415.5}
  \cpd{C00080b}{C00080}{2.6}{1347.6}{33.3}{1368.2}
  \cpd{C00011b}{C00011}{43.4}{1346}{73.7}{1369.9}
  \cpd{C04734}{C04734}{503.8}{1326.5}{599.2}{1389.2}
  \cpd{C00004b}{C00004}{624.7}{1321.4}{754.1}{1394.3}
  \cpd{C16155}{C16155}{764.5}{1327}{900.9}{1388.4}
  \cpd{C00011c}{C00011}{911}{1345.7}{941.7}{1369.7}
  \cpd{C00080c}{C00080}{952}{1347.4}{982.5}{1368}
  \cpd{C00006}{C00006}{104.1}{1477.2}{236.9}{1567.2}
  \cpd{C00001d}{C00001}{247.3}{1508.3}{277.7}{1535.7}
  \cpd{C00234}{C00234}{310.6}{1492.6}{502.8}{1551.9}
  \cpd{C00001e}{C00001}{524.2}{1507.7}{554.6}{1534.9}
  \cpd{C00130}{C00130}{565}{1485.6}{636.4}{1557.2}

  % Bonds, then atoms
  \Molecules
  \begin{scope}
    \atompasstrue
    \tikzset{bond/.style={draw=none},dbond/.style={draw=none},hashb/.style={draw=none}}
    \Molecules
  \end{scope}

  % Upper part of the pathway
  \draw[conn] ([xshift=17.35pt]C00117.south) -- ([xshift=-8.55pt]R06590.north);
  \draw[conn] ([xshift=-17pt]C12214.south) -- ([xshift=8.45pt]R06590.north);
  \draw[conn] ([xshift=-3.75pt]R06590.south) -- ([xshift=15.6pt]C05382.north);
  \draw[conn] ([xshift=3.85pt]R06590.south) -- ([xshift=-11.6pt]C12215.north);
  \draw[conn] ([yshift=-40.8pt]C05382.west) .. controls +(-12,11) and +(20,-9) .. ([yshift=5.6pt]R01843.east);
  \draw[conn] ([xshift=4.7pt]C00002.south) -- ([xshift=-1.85pt]R01843.north);
  \draw[conn] ([yshift=-9pt]R01843.west) .. controls +(-15,6) and +(12,-12) .. ([yshift=46.7pt]C00447.east);
  \draw[conn] ([xshift=1.75pt]R01843.south) -- ([xshift=-4.45pt]C00003u.north);
  \draw[conn] ([xshift=-4.8pt]C05382.south) -- ++(-.8,321) .. controls +(0,40) and +(24,-45) .. ([xshift=6.65pt]R01827.north);
  \draw[conn] ([xshift=11.65pt]R01827.north) .. controls +(22,-32) and +(0,60) .. ++(47.7,-122.9) -- ([xshift=4.6pt]C05382.south);
  \draw[conn] ([yshift=-47.1pt]C00447.east) -- ([yshift=5.7pt]R01829.west);
  \draw[conn] ([xshift=-.5pt]R01829.south) -- (C00279.north);
  \draw[conn] ([xshift=14.5pt]R01829.south) -- ([xshift=-17.7pt]C00111.north);
  \draw[conn] ([xshift=14.15pt]C00231.south) -- ([xshift=-6.85pt]R01830.north);
  \draw[conn] ([xshift=-16.1pt]C00279.south) -- ([xshift=5.15pt]R01830.north);
  \draw[conn] ([xshift=1.8pt]C00279.south) .. controls +(3,22) and +(-8,-30) .. ([xshift=-5.35pt]R01827.north);
  \draw[conn] ([xshift=.75pt]R01827.north) .. controls +(-3,-30) and +(5,25) .. ([xshift=10.9pt]C00279.south);
  \draw[conn] ([xshift=3.65pt]R01830.south) -- ([xshift=-10.2pt]C00118.north);
  \draw[conn] ([xshift=-3.95pt]R01830.south) .. controls +(-22,55) and +(-45,-45) .. ([xshift=-24.85pt]C05345.north);
  \draw[conn] ([xshift=17.6pt]C00118.south) -- ([xshift=-11.45pt]R01827.north);
  \draw[conn] ([xshift=-5.35pt]R01827.north) -- ([yshift=-27.3pt]C00118.east);
  \draw[conn] ([yshift=-15.3pt]C00118.west) .. controls +(-30,16) and +(25,-8) .. ([yshift=5.7pt]R02722.east);
  \draw[conn] ([yshift=-19.7pt]C00118.west) .. controls +(-18,12) and +(8,-10) .. ([xshift=13.55pt]R02340.north);
  \draw[conn] ([xshift=8.75pt]C00001a.south) .. controls +(8,13) and +(-14,-10) .. ([xshift=-16.45pt]R02722.north);
  \draw[conn] (C00078.south) -- (R02722.north);
  \draw[conn] (C00463.south) -- (R02340.north);
  \draw[conn] ([xshift=-15.95pt]R02722.south) -- ([xshift=24.9pt]C00065.north);
  \draw[conn] ([xshift=.95pt]R02722.south) -- ([xshift=-2.6pt]C03506.north);
  \draw[conn] ([xshift=-11.15pt]R02340.south) -- ([xshift=27.4pt]C03506.north);
  \draw[conn] ([xshift=-3.15pt]R01827.south) -- ([xshift=-3.55pt]C05345.north);
  \draw[conn] ([xshift=3.35pt]C05345.north) -- ([xshift=3.35pt]R01827.south);
  \draw[conn] ([xshift=22.6pt]C03506.south) -- ([xshift=-8.55pt]R03508.north);
  \draw[conn] ([xshift=-5.55pt]C00011a.south) -- ([xshift=4.05pt]R03508.north);
  \draw[conn] ([xshift=-9.9pt]C00001b.south) .. controls +(-8,12) and +(16,-12) .. ([xshift=16.45pt]R03508.north);
  \draw[conn] ([xshift=1.85pt]C05345.south) -- ([xshift=-1.65pt]R02740.north);

  % Middle part
  \draw[conn] ([xshift=-.95pt]R03508.south) -- ([xshift=1.7pt]C01302.north);
  \draw[conn] ([xshift=-.3pt]C01302.south) -- ([xshift=.95pt]R03509.north);
  \draw[conn] (R03509.south) -- (C04302.north);
  \draw[conn] ([xshift=2.05pt]R02740.south) -- ([xshift=-5.15pt]C00668.north);
  \draw[conn] (C00668.south) -- ([xshift=-.4pt]R00959.north);
  \draw[conn] (R00959.south) -- ([xshift=-.45pt]C00103.north);
  \draw[conn] (C04302.south) -- (R01073.north);
  \draw[conn] ([xshift=-14.85pt]C00013a.south) .. controls +(-12,14) and +(18,-10) .. ([xshift=17pt]R01073.north);
  \draw[conn] ([xshift=-10.7pt]R01073.south) -- ([xshift=24.4pt]C00119.north);
  \draw[conn] ([xshift=2.3pt]R01073.south) -- ([xshift=-6.2pt]C00108.north);
  \draw[conn] (C04051.south) -- (R04378.north);
  \draw[conn] ([xshift=-30.5pt]C00119.south) -- ([xshift=13.65pt]R04378.north);
  \draw[conn] ([xshift=-6.65pt]R04378.south) -- ([xshift=12.2pt]C00013b.north);
  \draw[conn] ([xshift=6.75pt]R04378.south) -- ([xshift=-20pt]C04677.north);
  \draw[conn] (C04677.south) -- (R04560.north);
  \draw[conn] ([xshift=28.85pt]C00103.south) .. controls +(14,10) and +(-22,-8) .. ([yshift=6.6pt]R00955.west);
  \draw[conn] (C00052.south) -- (R00955.north);
  \draw[conn] (R00955.south) -- (C00446.north);
  \draw[conn] ([yshift=-1.3pt]R00955.east) .. controls +(50,3) and +(-30,-14) .. ([xshift=-62.7pt]C00029.north);
  \draw[conn] ([yshift=-35pt]C00003a.east) .. controls +(25,14) and +(-12,-6) .. ([yshift=5.4pt]R00286.west);
  \draw[conn] (C00029.south) -- (R00286.north);
  \draw[conn] ([xshift=-5.6pt]C00001c.south) .. controls +(-6,20) and +(28,-14) .. ([yshift=2.7pt]R00286.east);
  \draw[conn] ([yshift=-2pt]R00286.west) .. controls +(-60,7) and +(35,-14) .. ([xshift=58.6pt]C00167.north);
  \draw[conn] (R00286.south) -- (C00004a.north);
  \draw[conn] ([yshift=-4.6pt]R00286.east) .. controls +(25,8) and +(-10,-24) .. ([xshift=-4.65pt]C00080a.north);

  % Lower part
  \draw[conn] ([xshift=11.25pt]C00167.south) -- ([xshift=-3.7pt]R07658.north);
  \draw[conn] ([xshift=-62.65pt]C00003b.south) -- ([xshift=16.7pt]R07658.north);
  \draw[conn] ([yshift=-2.8pt]R07658.west) .. controls +(-35,7) and +(18,-20) .. ([xshift=40pt]C00004b.north);
  \draw[conn] ([xshift=-3.7pt]R07658.south) -- ([xshift=11.4pt]C16155.north);
  \draw[conn] ([yshift=-9.3pt]R07658.east) .. controls +(14,14) and +(-6,-28) .. ([xshift=-2.35pt]C00011c.north);
  \draw[conn] ([yshift=-2.1pt]R07658.east) .. controls +(40,6) and +(-6,-45) .. ([xshift=-1.05pt]C00080c.north);
  \draw[conn] ([yshift=-2.2pt]R04560.west) .. controls +(-90,6) and +(25,-20) .. ([xshift=46.35pt]C00101.north);
  \draw[conn] ([xshift=9.1pt]R04560.south) -- ([xshift=-22.7pt]C04734.north);
  \draw[conn] (C00101.south) -- (R00941.north);
  \draw[conn] ([yshift=-55.6pt]C00005.west) .. controls +(-20,13) and +(20,-10) .. ([yshift=3.6pt]R00941.east);
  \draw[conn] ([xshift=.65pt]C00080b.south) .. controls +(2,62) and +(-70,-14) .. ([yshift=1.1pt]R00941.west);
  \draw[conn] ([xshift=1.85pt]C00011b.south) .. controls +(2,55) and +(-55,-20) .. ([yshift=3.9pt]R00941.west);
  \draw[conn] ([xshift=-2.65pt]R00941.south) -- ([xshift=8.9pt]C00006.north);
  \draw[conn] ([yshift=-7.2pt]R00941.east) .. controls +(22,10) and +(-5,-25) .. ([xshift=-5.4pt]C00001d.north);
  \draw[conn] ([yshift=-5.4pt]R00941.east) -- ([xshift=-80.4pt]C00234.north);
  \draw[conn] ([xshift=25.6pt]C00234.north) .. controls +(32,-50) and +(-1,70) .. ([xshift=1.5pt]R04560.south);
  \draw[conn] (C04734.south) -- (R01127.north);
  \draw[conn] ([xshift=-1.8pt]R01127.south) -- ([xshift=2.4pt]C00001e.north);
  \draw[conn] ([xshift=7.2pt]R01127.south) -- ([xshift=-23pt]C00130.north);
\end{tikzpicture}
\end{document}
